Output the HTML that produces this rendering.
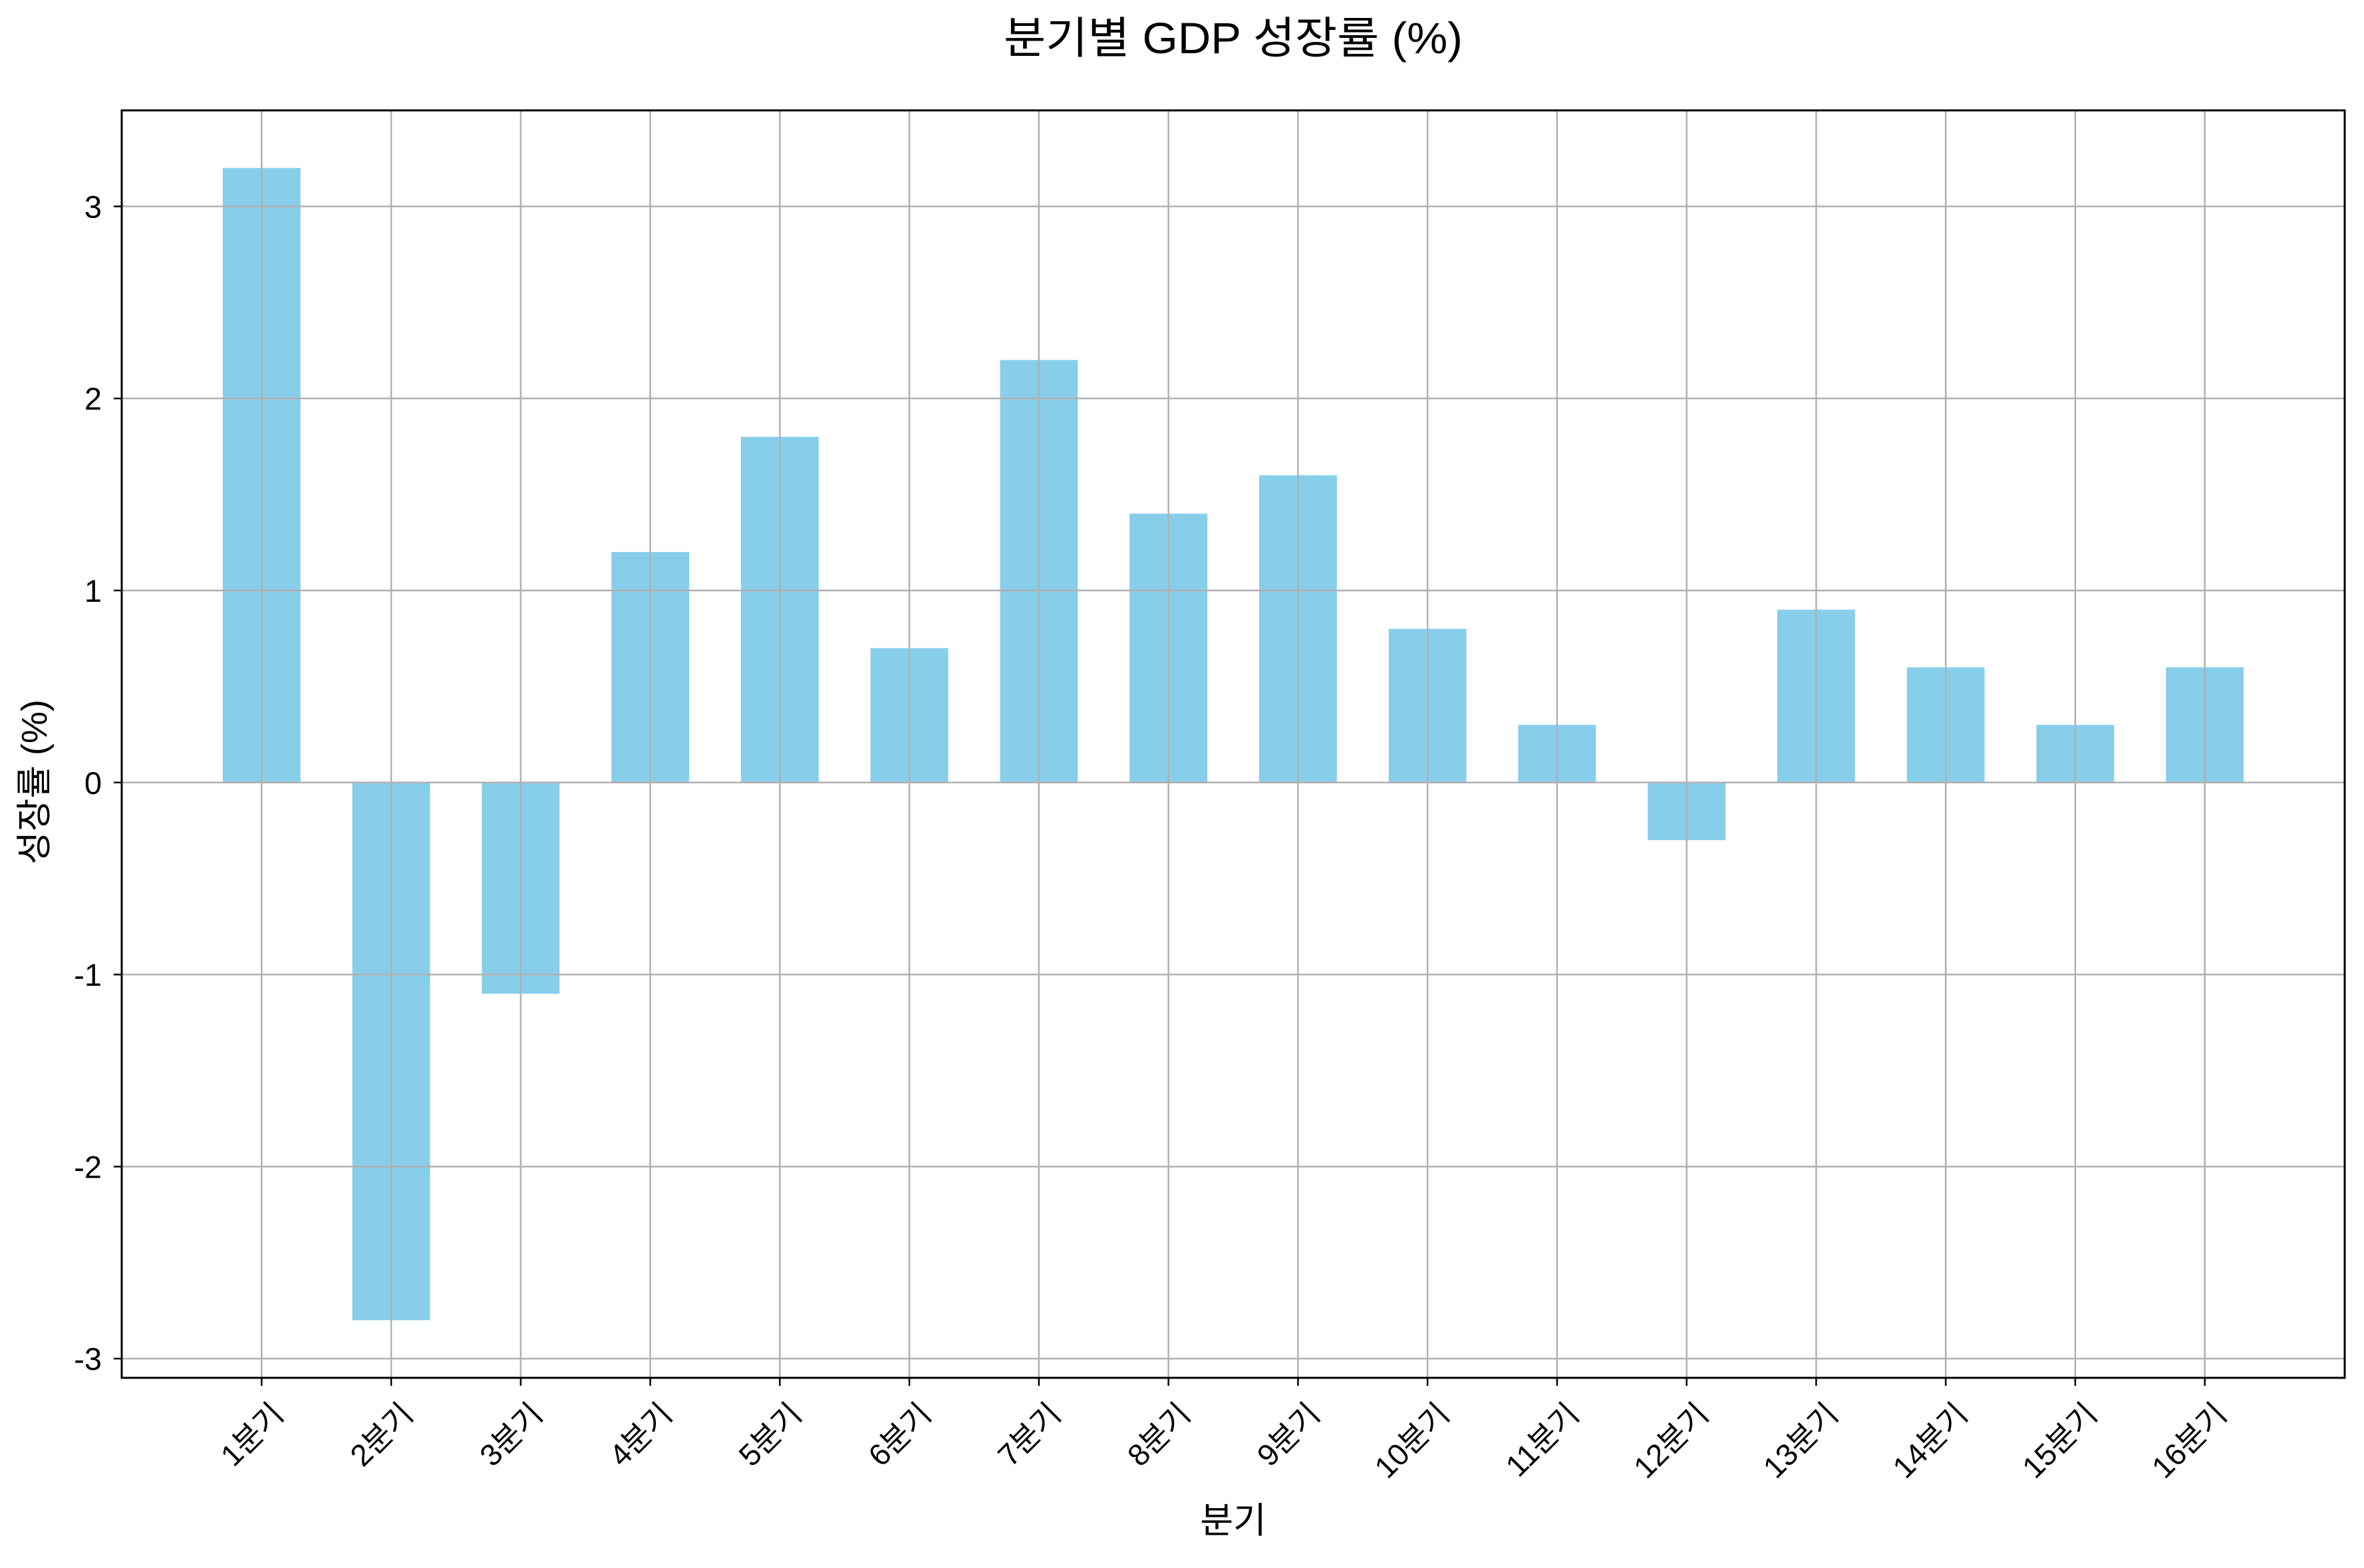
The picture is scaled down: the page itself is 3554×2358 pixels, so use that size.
<!DOCTYPE html>
<html><head><meta charset="utf-8"><style>
html,body{margin:0;padding:0;background:#fff}
svg text{font-family:"Liberation Sans","Noto Sans CJK KR",sans-serif;fill:#000}
</style></head><body>
<svg id="chart" width="3554" height="2353" viewBox="0 0 3554 2353" xmlns="http://www.w3.org/2000/svg">
<rect width="3554" height="2353" fill="#fff"/>
<g id="bars"></g>
<g id="grid"></g>
<g id="axes"></g>
<text x="1854" y="80" font-size="66" text-anchor="middle" textLength="690" lengthAdjust="spacingAndGlyphs">분기별 GDP 성장률 (%)</text>
<text x="1854" y="2305" font-size="54" text-anchor="middle">분기</text>
<text transform="translate(70,1176) rotate(-90)" font-size="54" text-anchor="middle">성장률 (%)</text>
</svg>
<script>
const categories = ["1분기","2분기","3분기","4분기","5분기","6분기","7분기","8분기","9분기","10분기","11분기","12분기","13분기","14분기","15분기","16분기"];
const values = [3.2,-2.8,-1.1,1.2,1.8,0.7,2.2,1.4,1.6,0.8,0.3,-0.3,0.9,0.6,0.3,0.6];
const yTicks = [-3,-2,-1,0,1,2,3];
const yTickLabels = ["-3","-2","-1","0","1","2","3"];

const L=183,R=3525,T=166,B=2072;
const xMin=-1.08,xMax=categories.length-1+1.08,yMin=-3.1,yMax=3.5;
const xs=i=>L+(i-xMin)/(xMax-xMin)*(R-L);
const ys=v=>B-(v-yMin)/(yMax-yMin)*(B-T);
const NS="http://www.w3.org/2000/svg";
function mk(tag,attrs,parent){const e=document.createElementNS(NS,tag);for(const k in attrs)e.setAttribute(k,attrs[k]);parent.appendChild(e);return e;}
const gb=document.getElementById('bars'),gg=document.getElementById('grid'),ga=document.getElementById('axes');
const bw=(xs(0.6)-xs(0));
values.forEach((v,i)=>{
  const y0=ys(Math.max(v,0)),y1=ys(Math.min(v,0));
  const r=mk('rect',{x:xs(i)-bw/2,y:y0,width:bw,height:y1-y0,fill:'#87CEEB'},gb);
  
  
});
categories.forEach((c,i)=>{
  const x=xs(i);
  const l=mk('line',{x1:x,x2:x,y1:T,y2:B,stroke:'#b0b0b0','stroke-width':2.5},gg);
  
  
  const tk=mk('line',{x1:x,x2:x,y1:B,y2:B+12,stroke:'#000','stroke-width':2.5},ga);
  
  
  const t=mk('text',{transform:`translate(${x+12},${B+34}) rotate(-45)`,'font-size':46,'text-anchor':'end','dominant-baseline':'hanging'},ga);
  t.textContent=c;
  
  
});
yTicks.forEach((v,i)=>{
  const y=ys(v);
  const l=mk('line',{x1:L,x2:R,y1:y,y2:y,stroke:'#b0b0b0','stroke-width':2.5},gg);
  
  
  const tk=mk('line',{x1:L-12,x2:L,y1:y,y2:y,stroke:'#000','stroke-width':2.5},ga);
  
  
  const t=mk('text',{x:L-30,y:y+17,'font-size':47,'text-anchor':'end'},ga);
  t.textContent=yTickLabels[i];
  
  
});
const frame=mk('rect',{x:L,y:T,width:R-L,height:B-T,fill:'none',stroke:'#000','stroke-width':3},ga);


</script>
</body></html>
